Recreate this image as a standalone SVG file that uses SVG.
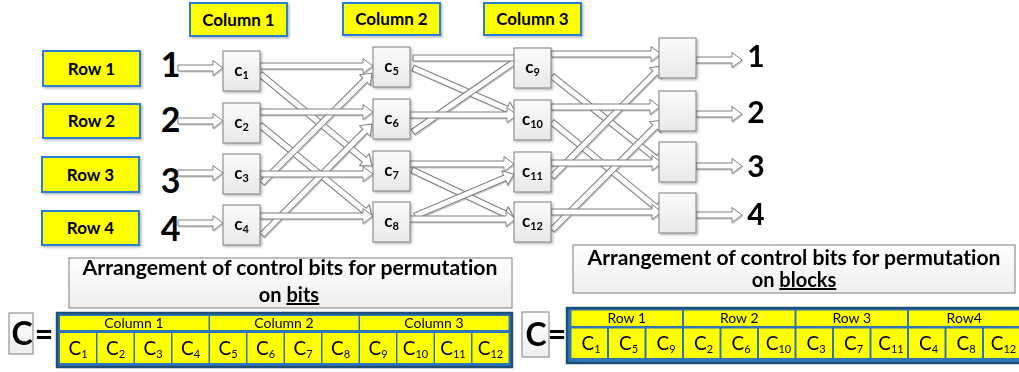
<svg xmlns="http://www.w3.org/2000/svg" width="1019" height="372" viewBox="0 0 1019 372">
<defs>
<linearGradient id="gBox" x1="0" y1="0" x2="0" y2="1"><stop offset="0" stop-color="#fbfbfb"/><stop offset="1" stop-color="#e9e9e9"/></linearGradient>
<linearGradient id="gTitle" x1="0" y1="0" x2="0" y2="1"><stop offset="0" stop-color="#ffffff"/><stop offset="1" stop-color="#eeeeee"/></linearGradient>
<filter id="sh" x="-20%" y="-20%" width="140%" height="140%"><feDropShadow dx="1.5" dy="1.5" stdDeviation="1" flood-color="#000" flood-opacity="0.28"/></filter>
<filter id="sha" x="-5%" y="-5%" width="110%" height="110%"><feDropShadow dx="1" dy="1" stdDeviation="0.6" flood-color="#000" flood-opacity="0.22"/></filter>
</defs>
<style>
text{font-variant-ligatures:none}
.box{fill:url(#gBox);stroke:#7f7f7f;stroke-width:1}
.lab{fill:#ffff00;stroke:#2a7fd4;stroke-width:2}
.arr{fill:#ffffff;stroke:#7f7f7f;stroke-width:1;stroke-linejoin:miter}
.ct{font-family:Lato,"Liberation Sans",sans-serif;font-weight:bold;font-size:17px;text-anchor:middle;fill:#000}
.lt{font-family:Lato,"Liberation Sans",sans-serif;font-weight:bold;font-size:17px;text-anchor:middle;fill:#000}
.num{font-family:Lato,"Liberation Sans",sans-serif;font-weight:bold;text-anchor:middle;fill:#000}
.tt{font-family:Lato,"Liberation Sans",sans-serif;font-weight:bold;font-size:20px;text-anchor:middle;fill:#000}
.title{fill:url(#gTitle);stroke:#7f7f7f;stroke-width:1}
.tout{fill:#2e75b6;stroke:#1f4e79;stroke-width:2.5}
.cell{fill:#ffff00}
.ht{font-family:Lato,"Liberation Sans",sans-serif;font-size:14px;text-anchor:middle;fill:#000}
.cc{font-family:Lato,"Liberation Sans",sans-serif;font-size:19px;text-anchor:middle;fill:#000}
.cbox{fill:url(#gTitle);stroke:#7f7f7f;stroke-width:1}
.big{font-family:Lato,"Liberation Sans",sans-serif;font-weight:bold;font-size:32px;text-anchor:middle;fill:#000}
</style>

<!-- column labels -->
<g id="col1-label"><rect class="lab" x="190" y="3" width="97" height="33" filter="url(#sh)"/><text class="lt" x="238.5" y="25.5">Column 1</text></g>
<g id="col2-label"><rect class="lab" x="343" y="3" width="97" height="32" filter="url(#sh)"/><text class="lt" x="391.5" y="25">Column 2</text></g>
<g id="col3-label"><rect class="lab" x="484" y="3" width="97" height="32" filter="url(#sh)"/><text class="lt" x="532.5" y="25">Column 3</text></g>

<!-- row labels -->
<g id="row1-label"><rect class="lab" x="43" y="51" width="97" height="35" filter="url(#sh)"/><text class="lt" x="91.5" y="74.5">Row 1</text></g>
<g id="row2-label"><rect class="lab" x="43" y="104" width="97" height="34" filter="url(#sh)"/><text class="lt" x="91.5" y="127">Row 2</text></g>
<g id="row3-label"><rect class="lab" x="42" y="157" width="97" height="35" filter="url(#sh)"/><text class="lt" x="90.5" y="180.5">Row 3</text></g>
<g id="row4-label"><rect class="lab" x="42" y="211" width="97" height="34" filter="url(#sh)"/><text class="lt" x="90.5" y="234">Row 4</text></g>

<!-- input numbers -->
<g id="in-numbers">
<text class="num" font-size="34" x="170.5" y="77">1</text>
<text class="num" font-size="34" x="170.5" y="132">2</text>
<text class="num" font-size="34" x="170.5" y="193">3</text>
<text class="num" font-size="34" x="170.5" y="241">4</text>
</g>

<!-- connectors -->
<g id="connectors" filter="url(#sha)">
<path class="arr" transform="translate(178,68)" d="M0,-3H35V-7.5L45,0L35,7.5V3H0Z"/>
<path class="arr" transform="translate(178,121)" d="M0,-3H35V-7.5L45,0L35,7.5V3H0Z"/>
<path class="arr" transform="translate(178,173)" d="M0,-3H35V-7.5L45,0L35,7.5V3H0Z"/>
<path class="arr" transform="translate(178,223)" d="M0,-3H35V-7.5L45,0L35,7.5V3H0Z"/>

<path class="arr" transform="translate(260,74) rotate(39.4)" d="M0,-3H135V-7.5L145,0L135,7.5V3H0Z"/>
<path class="arr" transform="translate(260,125) rotate(39.4)" d="M0,-3H135V-7.5L145,0L135,7.5V3H0Z"/>
<path class="arr" transform="translate(262,183) rotate(-45)" d="M0,-3H145.6V-7.5L155.6,0L145.6,7.5V3H0Z"/>
<path class="arr" transform="translate(262,235) rotate(-45.3)" d="M0,-3H146.3V-7.5L156.3,0L146.3,7.5V3H0Z"/>
<path class="arr" transform="translate(260,66)" d="M0,-3H103V-7.5L113,0L103,7.5V3H0Z"/>
<path class="arr" transform="translate(260,112)" d="M0,-3H103V-7.5L113,0L103,7.5V3H0Z"/>
<path class="arr" transform="translate(260,174)" d="M0,-3H103V-7.5L113,0L103,7.5V3H0Z"/>
<path class="arr" transform="translate(260,216)" d="M0,-3H103V-7.5L113,0L103,7.5V3H0Z"/>

<path class="arr" transform="translate(413,68) rotate(23.6)" d="M0,-3H102.4V-7.5L112.4,0L102.4,7.5V3H0Z"/>
<path class="arr" transform="translate(413,132) rotate(-34.7)" d="M0,-3H130V-7.5L140,0L130,7.5V3H0Z"/>
<path class="arr" transform="translate(412,170) rotate(25.2)" d="M0,-3H102.7V-7.5L112.7,0L102.7,7.5V3H0Z"/>
<path class="arr" transform="translate(415,216) rotate(-23)" d="M0,-3H97.5V-7.5L107.5,0L97.5,7.5V3H0Z"/>
<path class="arr" transform="translate(413,58)" d="M0,-3H103V-7.5L113,0L103,7.5V3H0Z"/>
<path class="arr" transform="translate(410,115)" d="M0,-3H97V-7.5L107,0L97,7.5V3H0Z"/>
<path class="arr" transform="translate(410,164)" d="M0,-3H94V-7.5L104,0L94,7.5V3H0Z"/>
<path class="arr" transform="translate(407,219)" d="M0,-3H99V-7.5L109,0L99,7.5V3H0Z"/>

<path class="arr" transform="translate(552,76) rotate(38.4)" d="M0,-3H131.7V-7.5L141.7,0L131.7,7.5V3H0Z"/>
<path class="arr" transform="translate(552,122) rotate(39.4)" d="M0,-3H133.5V-7.5L143.5,0L133.5,7.5V3H0Z"/>
<path class="arr" transform="translate(552,177) rotate(-45.3)" d="M0,-3H146.3V-7.5L156.3,0L146.3,7.5V3H0Z"/>
<path class="arr" transform="translate(552,230) rotate(-45)" d="M0,-3H145.6V-7.5L155.6,0L145.6,7.5V3H0Z"/>
<path class="arr" transform="translate(551,54)" d="M0,-3H100V-7.5L110,0L100,7.5V3H0Z"/>
<path class="arr" transform="translate(551,107)" d="M0,-3H99V-7.5L109,0L99,7.5V3H0Z"/>
<path class="arr" transform="translate(551,163)" d="M0,-3H101V-7.5L111,0L101,7.5V3H0Z"/>
<path class="arr" transform="translate(551,212)" d="M0,-3H101V-7.5L111,0L101,7.5V3H0Z"/>

<path class="arr" transform="translate(696,60)" d="M0,-3H36V-7.5L46,0L36,7.5V3H0Z"/>
<path class="arr" transform="translate(696,114)" d="M0,-3H36V-7.5L46,0L36,7.5V3H0Z"/>
<path class="arr" transform="translate(696,166)" d="M0,-3H36V-7.5L46,0L36,7.5V3H0Z"/>
<path class="arr" transform="translate(696,215)" d="M0,-3H36V-7.5L46,0L36,7.5V3H0Z"/>
</g>

<!-- column 1 switches -->
<g id="c1"><rect class="box" x="223" y="51" width="37" height="40" filter="url(#sh)"/><text class="ct" x="241.5" y="76">c<tspan font-size="11" dy="3">1</tspan></text></g>
<g id="c2"><rect class="box" x="223" y="103" width="37" height="40" filter="url(#sh)"/><text class="ct" x="241.5" y="128">c<tspan font-size="11" dy="3">2</tspan></text></g>
<g id="c3"><rect class="box" x="223" y="154" width="37" height="40" filter="url(#sh)"/><text class="ct" x="241.5" y="179">c<tspan font-size="11" dy="3">3</tspan></text></g>
<g id="c4"><rect class="box" x="223" y="205" width="37" height="40" filter="url(#sh)"/><text class="ct" x="241.5" y="230">c<tspan font-size="11" dy="3">4</tspan></text></g>
<!-- column 2 -->
<g id="c5"><rect class="box" x="373" y="47" width="37" height="40" filter="url(#sh)"/><text class="ct" x="391.5" y="72">c<tspan font-size="11" dy="3">5</tspan></text></g>
<g id="c6"><rect class="box" x="373" y="99" width="37" height="40" filter="url(#sh)"/><text class="ct" x="391.5" y="124">c<tspan font-size="11" dy="3">6</tspan></text></g>
<g id="c7"><rect class="box" x="373" y="151" width="37" height="40" filter="url(#sh)"/><text class="ct" x="391.5" y="176">c<tspan font-size="11" dy="3">7</tspan></text></g>
<g id="c8"><rect class="box" x="373" y="202" width="37" height="40" filter="url(#sh)"/><text class="ct" x="391.5" y="227">c<tspan font-size="11" dy="3">8</tspan></text></g>
<!-- column 3 -->
<g id="c9"><rect class="box" x="514" y="48" width="37" height="40" filter="url(#sh)"/><text class="ct" x="532.5" y="73">c<tspan font-size="11" dy="3">9</tspan></text></g>
<g id="c10"><rect class="box" x="514" y="100" width="37" height="40" filter="url(#sh)"/><text class="ct" x="532.5" y="125">c<tspan font-size="11" dy="3">10</tspan></text></g>
<g id="c11"><rect class="box" x="514" y="152" width="37" height="40" filter="url(#sh)"/><text class="ct" x="532.5" y="177">c<tspan font-size="11" dy="3">11</tspan></text></g>
<g id="c12"><rect class="box" x="514" y="202" width="37" height="40" filter="url(#sh)"/><text class="ct" x="532.5" y="227">c<tspan font-size="11" dy="3">12</tspan></text></g>
<!-- output boxes -->
<g id="out1"><rect class="box" x="659" y="38" width="37" height="40" filter="url(#sh)"/></g>
<g id="out2"><rect class="box" x="659" y="91" width="37" height="40" filter="url(#sh)"/></g>
<g id="out3"><rect class="box" x="659" y="142" width="37" height="40" filter="url(#sh)"/></g>
<g id="out4"><rect class="box" x="659" y="193" width="37" height="40" filter="url(#sh)"/></g>

<g id="out-numbers">
<text class="num" font-size="30" x="756" y="67">1</text>
<text class="num" font-size="30" x="756" y="123">2</text>
<text class="num" font-size="30" x="756" y="177">3</text>
<text class="num" font-size="30" x="756" y="225">4</text>
</g>

<!-- title 1 -->
<g id="title-bits">
<rect class="title" x="69" y="258" width="443" height="50"/>
<text class="tt" x="290" y="275" textLength="415" lengthAdjust="spacingAndGlyphs">Arrangement of control bits for permutation</text>
<text class="tt" x="289" y="302">on <tspan text-decoration="underline">bits</tspan></text>
</g>

<!-- table 1 -->
<g id="C-label-1">
<rect class="cbox" x="9" y="313" width="24" height="41"/>
<text class="big" x="22" y="345">C</text>
<text class="big" x="44" y="346">=</text>
</g>
<g id="table-bits">
<rect class="tout" x="57" y="313" width="455" height="54"/>
<rect class="cell" x="60" y="316" width="148.5" height="14"/>
<rect class="cell" x="210" y="316" width="148.5" height="14"/>
<rect class="cell" x="360" y="316" width="148.5" height="14"/>
<text class="ht" x="134" y="328">Column 1</text>
<text class="ht" x="284" y="328">Column 2</text>
<text class="ht" x="434" y="328">Column 3</text>
<rect class="cell" x="60" y="333" width="36" height="30"/>
<rect class="cell" x="97.5" y="333" width="36" height="30"/>
<rect class="cell" x="135" y="333" width="36" height="30"/>
<rect class="cell" x="172.5" y="333" width="36" height="30"/>
<rect class="cell" x="210" y="333" width="36" height="30"/>
<rect class="cell" x="247.5" y="333" width="36" height="30"/>
<rect class="cell" x="285" y="333" width="36" height="30"/>
<rect class="cell" x="322.5" y="333" width="36" height="30"/>
<rect class="cell" x="360" y="333" width="36" height="30"/>
<rect class="cell" x="397.5" y="333" width="36" height="30"/>
<rect class="cell" x="435" y="333" width="36" height="30"/>
<rect class="cell" x="472.5" y="333" width="36" height="30"/>
<text class="cc" x="78" y="355">C<tspan font-size="11" dy="3">1</tspan></text>
<text class="cc" x="115.5" y="355">C<tspan font-size="11" dy="3">2</tspan></text>
<text class="cc" x="153" y="355">C<tspan font-size="11" dy="3">3</tspan></text>
<text class="cc" x="190.5" y="355">C<tspan font-size="11" dy="3">4</tspan></text>
<text class="cc" x="228" y="355">C<tspan font-size="11" dy="3">5</tspan></text>
<text class="cc" x="265.5" y="355">C<tspan font-size="11" dy="3">6</tspan></text>
<text class="cc" x="303" y="355">C<tspan font-size="11" dy="3">7</tspan></text>
<text class="cc" x="340.5" y="355">C<tspan font-size="11" dy="3">8</tspan></text>
<text class="cc" x="378" y="355">C<tspan font-size="11" dy="3">9</tspan></text>
<text class="cc" x="415.5" y="355">C<tspan font-size="11" dy="3">10</tspan></text>
<text class="cc" x="453" y="355">C<tspan font-size="11" dy="3">11</tspan></text>
<text class="cc" x="490.5" y="355">C<tspan font-size="11" dy="3">12</tspan></text>
</g>

<!-- title 2 -->
<g id="title-blocks">
<rect class="title" x="573" y="245" width="442" height="48"/>
<text class="tt" x="794" y="265" textLength="413" lengthAdjust="spacingAndGlyphs">Arrangement of control bits for permutation</text>
<text class="tt" x="794" y="287">on <tspan text-decoration="underline">blocks</tspan></text>
</g>

<!-- table 2 -->
<g id="C-label-2">
<rect class="cbox" x="522" y="312" width="27" height="45"/>
<text class="big" x="536" y="346">C</text>
<text class="big" x="557" y="346">=</text>
</g>
<g id="table-blocks">
<rect class="tout" x="567" y="308" width="460" height="55"/>
<rect class="cell" x="571.5" y="310.5" width="110.5" height="15.5"/>
<rect class="cell" x="684" y="310.5" width="110.5" height="15.5"/>
<rect class="cell" x="796.5" y="310.5" width="110.5" height="15.5"/>
<rect class="cell" x="909" y="310.5" width="112" height="15.5"/>
<text class="ht" x="626.75" y="323">Row 1</text>
<text class="ht" x="739.25" y="323">Row 2</text>
<text class="ht" x="851.75" y="323">Row 3</text>
<text class="ht" x="964.25" y="323">Row4</text>
<rect class="cell" x="571.5" y="328.5" width="35.5" height="29.5"/>
<rect class="cell" x="609" y="328.5" width="35.5" height="29.5"/>
<rect class="cell" x="646.5" y="328.5" width="35.5" height="29.5"/>
<rect class="cell" x="684" y="328.5" width="35.5" height="29.5"/>
<rect class="cell" x="721.5" y="328.5" width="35.5" height="29.5"/>
<rect class="cell" x="759" y="328.5" width="35.5" height="29.5"/>
<rect class="cell" x="796.5" y="328.5" width="35.5" height="29.5"/>
<rect class="cell" x="834" y="328.5" width="35.5" height="29.5"/>
<rect class="cell" x="871.5" y="328.5" width="35.5" height="29.5"/>
<rect class="cell" x="909" y="328.5" width="35.5" height="29.5"/>
<rect class="cell" x="946.5" y="328.5" width="35.5" height="29.5"/>
<rect class="cell" x="984" y="328.5" width="35.5" height="29.5"/>
<text class="cc" x="591" y="350">C<tspan font-size="11" dy="3">1</tspan></text>
<text class="cc" x="628.5" y="350">C<tspan font-size="11" dy="3">5</tspan></text>
<text class="cc" x="666" y="350">C<tspan font-size="11" dy="3">9</tspan></text>
<text class="cc" x="703.5" y="350">C<tspan font-size="11" dy="3">2</tspan></text>
<text class="cc" x="741" y="350">C<tspan font-size="11" dy="3">6</tspan></text>
<text class="cc" x="778.5" y="350">C<tspan font-size="11" dy="3">10</tspan></text>
<text class="cc" x="816" y="350">C<tspan font-size="11" dy="3">3</tspan></text>
<text class="cc" x="853.5" y="350">C<tspan font-size="11" dy="3">7</tspan></text>
<text class="cc" x="891" y="350">C<tspan font-size="11" dy="3">11</tspan></text>
<text class="cc" x="928.5" y="350">C<tspan font-size="11" dy="3">4</tspan></text>
<text class="cc" x="966" y="350">C<tspan font-size="11" dy="3">8</tspan></text>
<text class="cc" x="1003.5" y="350">C<tspan font-size="11" dy="3">12</tspan></text>
</g>
</svg>
